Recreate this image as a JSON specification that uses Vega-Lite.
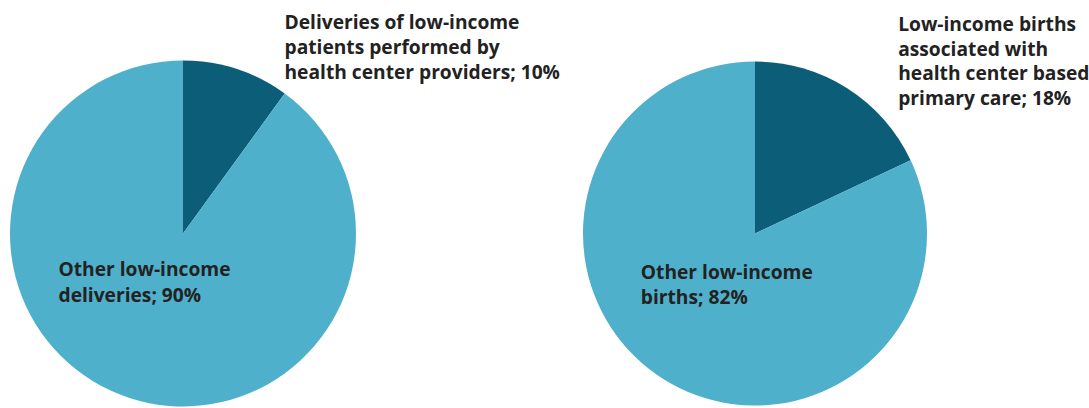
{
  "$schema": "https://vega.github.io/schema/vega-lite/v6.json",
  "background": "white",
  "bounds": "flush",
  "padding": {"left": 10, "top": 13.5, "right": 0, "bottom": 0},
  "spacing": 227,
  "config": {"view": {"stroke": null}},
  "data": {
    "values": [
      {"chart": "Deliveries", "category": "Health center", "seq": 1, "value": 10, "label": "Deliveries of low-income\npatients performed by\nhealth center providers; 10%"},
      {"chart": "Deliveries", "category": "Other", "seq": 2, "value": 90, "label": "Other low-income\ndeliveries; 90%"},
      {"chart": "Births", "category": "Health center", "seq": 1, "value": 18, "label": "Low-income births\nassociated with\nhealth center based\nprimary care; 18%"},
      {"chart": "Births", "category": "Other", "seq": 2, "value": 82, "label": "Other low-income\nbirths; 82%"}
    ]
  },
  "hconcat": [
    {
      "width": 346,
      "height": 346,
      "transform": [{"filter": "datum.chart == 'Deliveries'"}],
      "encoding": {
        "theta": {"field": "value", "type": "quantitative", "stack": true},
        "order": {"field": "seq", "type": "quantitative"}
      },
      "layer": [
        {
          "mark": {"type": "arc", "strokeWidth": 0},
          "encoding": {
            "color": {"field": "category", "type": "nominal", "scale": {"domain": ["Health center", "Other"], "range": ["#0b5d78", "#4fb0cc"]}, "legend": null}
          }
        },
        {
          "mark": {"type": "text", "radius": 0, "align": "left", "baseline": "top", "dx": 101.5, "dy": -219.5, "lineBreak": "\n", "lineHeight": 25, "font": "Open Sans", "fontWeight": "bold", "fontSize": 19.2, "color": "#222222"},
          "encoding": {"text": {"condition": {"test": "datum.category == 'Health center'", "field": "label"}, "value": ""}}
        },
        {
          "mark": {"type": "text", "radius": 0, "align": "left", "baseline": "top", "dx": -124.5, "dy": 27.5, "lineBreak": "\n", "lineHeight": 26, "font": "Open Sans", "fontWeight": "bold", "fontSize": 19.2, "color": "#222222"},
          "encoding": {"text": {"condition": {"test": "datum.category == 'Other'", "field": "label"}, "value": ""}}
        }
      ]
    },
    {
      "width": 344,
      "height": 346,
      "transform": [{"filter": "datum.chart == 'Births'"}],
      "encoding": {
        "theta": {"field": "value", "type": "quantitative", "stack": true},
        "order": {"field": "seq", "type": "quantitative"}
      },
      "layer": [
        {
          "mark": {"type": "arc", "strokeWidth": 0},
          "encoding": {
            "color": {"field": "category", "type": "nominal", "scale": {"domain": ["Health center", "Other"], "range": ["#0b5d78", "#4fb0cc"]}, "legend": null}
          }
        },
        {
          "mark": {"type": "text", "radius": 0, "align": "left", "baseline": "top", "dx": 143.2, "dy": -217.5, "lineBreak": "\n", "lineHeight": 24.7, "font": "Open Sans", "fontWeight": "bold", "fontSize": 19.2, "color": "#222222"},
          "encoding": {"text": {"condition": {"test": "datum.category == 'Health center'", "field": "label"}, "value": ""}}
        },
        {
          "mark": {"type": "text", "radius": 0, "align": "left", "baseline": "top", "dx": -114.2, "dy": 30.7, "lineBreak": "\n", "lineHeight": 25, "font": "Open Sans", "fontWeight": "bold", "fontSize": 19.2, "color": "#222222"},
          "encoding": {"text": {"condition": {"test": "datum.category == 'Other'", "field": "label"}, "value": ""}}
        }
      ]
    }
  ]
}
